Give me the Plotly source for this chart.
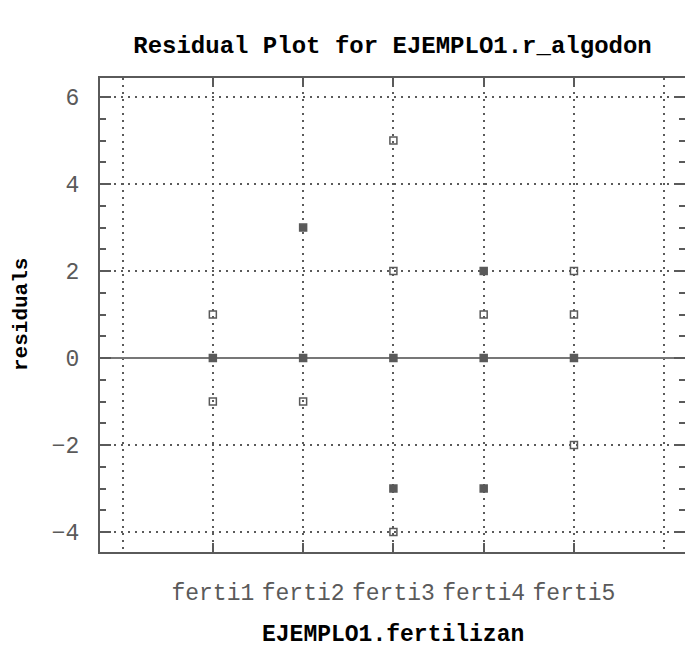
import plotly.graph_objects as go

# ---- data ----
categories = ["ferti1", "ferti2", "ferti3", "ferti4", "ferti5"]
point_category = ["ferti1", "ferti1", "ferti1",
                  "ferti2", "ferti2", "ferti2",
                  "ferti3", "ferti3", "ferti3", "ferti3", "ferti3",
                  "ferti4", "ferti4", "ferti4", "ferti4",
                  "ferti5", "ferti5", "ferti5", "ferti5"]
residuals = [1, 0, -1,
             3, 0, -1,
             5, 2, 0, -3, -4,
             2, 1, 0, -3,
             2, 1, 0, -2]
# number of coincident observations drawn at each point
counts = [1, 2, 1,
          2, 2, 1,
          1, 1, 2, 2, 1,
          2, 1, 2, 2,
          1, 1, 2, 1]
y_ticks = [-4, -2, 0, 2, 4, 6]

positions = [categories.index(c) + 1 for c in point_category]
symbols = ["square" if n > 1 else "square-open" for n in counts]

GRAY = "#5a5a5a"
FONT = "Liberation Mono"
W, H = 685, 649

fig = go.Figure()
fig.add_trace(go.Scatter(
    x=positions, y=residuals, mode="markers",
    marker=dict(symbol=symbols, size=7, color=GRAY,
                line=dict(color=GRAY, width=1.5)),
    showlegend=False,
))

fig.update_layout(
    width=W, height=H,
    margin=dict(l=100, r=0, t=78, b=97, autoexpand=False),
    paper_bgcolor="white", plot_bgcolor="white",
    title=dict(text="<b>Residual Plot for EJEMPLO1.r_algodon</b>",
               x=0.5, xref="paper", y=1 - 45 / H, yanchor="middle",
               font=dict(family=FONT, size=24, color="black")),
    xaxis=dict(
        range=[-0.25, 6.23],
        tickmode="array",
        tickvals=[i + 1 for i in range(len(categories))],
        ticktext=categories,
        ticks="inside", ticklen=9, tickwidth=2, tickcolor=GRAY,
        showline=True, linecolor=GRAY, linewidth=2, mirror="ticks",
        showgrid=True, gridcolor=GRAY, gridwidth=1.5, griddash="2px,5px",
        minor=dict(dtick=1, tick0=0, showgrid=True, gridcolor=GRAY,
                   gridwidth=1.5, griddash="2px,5px", ticklen=0),
        zeroline=False, automargin=False,
        tickfont=dict(family=FONT, size=23, color=GRAY),
        ticklabelstandoff=18,
    ),
    yaxis=dict(
        range=[-4.46, 6.44],
        tickmode="array", tickvals=y_ticks,
        ticks="inside", ticklen=11, tickwidth=2, tickcolor=GRAY,
        showline=True, linecolor=GRAY, linewidth=2, mirror="ticks",
        showgrid=True, gridcolor=GRAY, gridwidth=1.5, griddash="2px,5px",
        minor=dict(dtick=0.5, tick0=0, ticks="inside", ticklen=6,
                   tickwidth=2, tickcolor=GRAY, showgrid=False),
        zeroline=True, zerolinecolor="#777777", zerolinewidth=2,
        automargin=False,
        tickfont=dict(family=FONT, size=23, color=GRAY),
        ticklabelstandoff=14,
    ),
    annotations=[
        dict(text="<b>EJEMPLO1.fertilizan</b>", xref="paper", yref="paper",
             x=0.5, y=-(635 - 552) / (H - 78 - 97), xanchor="center",
             yanchor="middle", showarrow=False,
             font=dict(family=FONT, size=23, color="black")),
        dict(text="<b>residuals</b>", xref="paper", yref="paper",
             x=-(100 - 21) / (W - 100), y=0.5, xanchor="center",
             yanchor="middle", textangle=-90, showarrow=False,
             font=dict(family=FONT, size=21, color="black")),
    ],
)

fig.write_html("out.html",
               config={"displayModeBar": False},
               post_script="document.body.style.margin='0';")
